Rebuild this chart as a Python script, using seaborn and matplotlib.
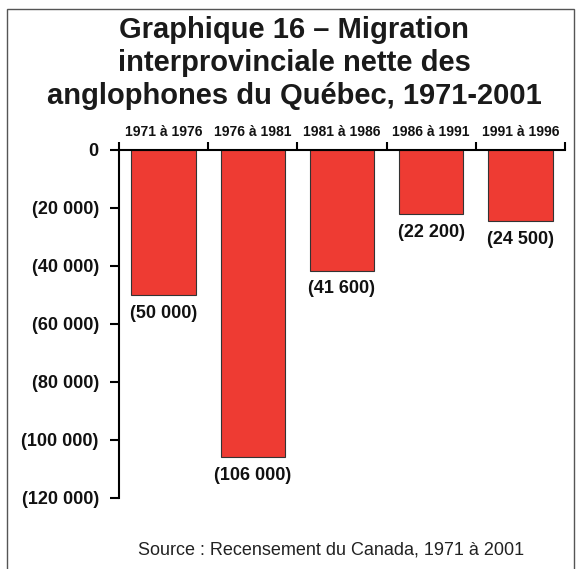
import matplotlib
matplotlib.use('Agg')
import matplotlib.pyplot as plt
import seaborn as sns
import pandas as pd
from matplotlib.patches import Rectangle

# data
periods = ['1971 à 1976', '1976 à 1981', '1981 à 1986', '1986 à 1991', '1991 à 1996']
net_migration = [-50000, -106000, -41600, -22200, -24500]
value_labels = ['(50 000)', '(106 000)', '(41 600)', '(22 200)', '(24 500)']
y_ticks = [0, -20000, -40000, -60000, -80000, -100000, -120000]
y_tick_labels = ['0', '(20 000)', '(40 000)', '(60 000)', '(80 000)', '(100 000)', '(120 000)']

df = pd.DataFrame({'Période': periods, 'Migration': net_migration})

sns.set_style('white')
plt.rcParams['font.family'] = ['Liberation Sans', 'DejaVu Sans']

W, H = 578, 569
fig = plt.figure(figsize=(W / 100, H / 100), dpi=100)
ax = fig.add_axes([119 / W, 1 - 498 / H, 446 / W, 348 / H])

sns.barplot(x='Période', y='Migration', data=df, color='#EE3B33', width=0.72,
            edgecolor='#333333', linewidth=0.8, saturation=1, ax=ax)

# labels under each bar
ax.bar_label(ax.containers[0], labels=value_labels, padding=7,
             fontsize=13, fontweight='bold', color='#111111')

ax.set_ylim(-120000, 0)
ax.set_xlim(-0.5, 4.5)
ax.set_yticks(y_ticks)
ax.set_yticklabels(y_tick_labels, fontsize=13, fontweight='bold', color='#111111')

# category names on top, boundary ticks as minor ticks
ax.xaxis.tick_top()
ax.set_xticks(range(len(periods)))
ax.set_xticklabels(periods, fontsize=10, fontweight='bold', color='#111111')
ax.set_xticks([i - 0.5 for i in range(len(periods) + 1)], minor=True)
ax.tick_params(axis='x', which='major', length=0, pad=8)
ax.tick_params(axis='x', which='minor', top=True, bottom=False, length=5.5, width=1.5, color='black')
ax.tick_params(axis='y', left=True, length=6.5, width=1.5, color='black', pad=8)
ax.set_xlabel('')
ax.set_ylabel('')

for side in ['right', 'bottom']:
    ax.spines[side].set_visible(False)
for side in ['left', 'top']:
    ax.spines[side].set_color('black')
    ax.spines[side].set_linewidth(1.5)

fig.text(294 / W, 1 - 63 / H, 'Graphique 16 – Migration\ninterprovinciale nette des\nanglophones du Québec, 1971-2001',
         ha='center', va='center', fontsize=21, fontweight='bold', linespacing=1.22, color='#1a1a1a')
fig.text(331 / W, 1 - 550 / H, 'Source : Recensement du Canada, 1971 à 2001',
         ha='center', va='center', fontsize=13, color='#222222')

# frame around the chart, open at the bottom
fig.patches.append(Rectangle((7 / W, -0.05), 567 / W, 1.05 - 9 / H, transform=fig.transFigure,
                             fill=False, edgecolor='#555555', linewidth=1))

fig.savefig('out.png', dpi=100)
